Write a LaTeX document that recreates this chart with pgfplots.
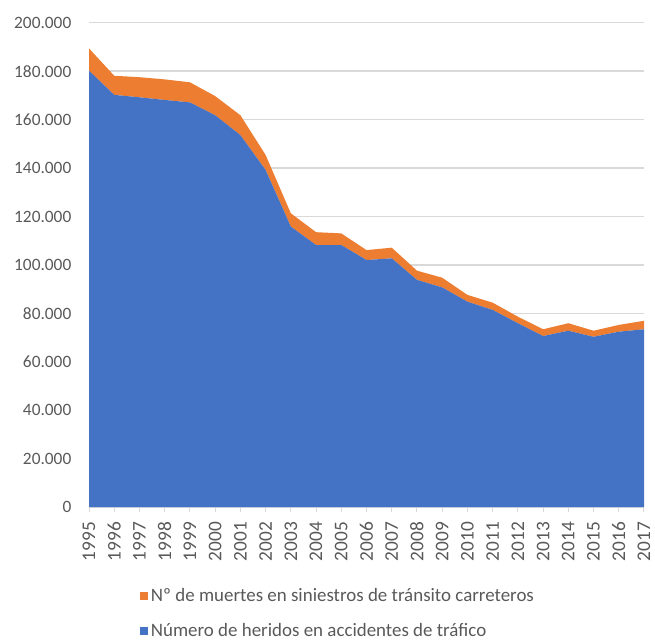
\documentclass[border=0pt]{standalone}
\usepackage{fontspec}
\setmainfont{Carlito}
\usepackage{pgfplots}
\usepackage{pgfplotstable}
\pgfplotsset{compat=1.18}

\definecolor{injblue}{HTML}{4472C4}
\definecolor{deathorange}{HTML}{ED7D31}
\definecolor{txtgray}{HTML}{595959}
\definecolor{gridgray}{HTML}{D9D9D9}

% Injured and deaths per year (deaths stacked on top of injured)
\pgfplotstableread{
year injured deaths
1995 180200 9200
1996 170200 7900
1997 169200 8300
1998 168100 8500
1999 167100 8300
2000 161800 7900
2001 153600 8200
2002 139200 6200
2003 115800 5500
2004 108200 5300
2005 108200 4800
2006 102000 4100
2007 102700 4400
2008 93800 3800
2009 90700 4000
2010 84800 2800
2011 81400 3000
2012 75900 2700
2013 70600 2800
2014 72800 3100
2015 70300 2500
2016 72400 2800
2017 73400 3500
}\datatable

\begin{document}
\begin{tikzpicture}
\begin{axis}[
  scale only axis,
  width=416.25pt, height=363.2pt,
  xmin=1995, xmax=2017, ymin=0, ymax=200000,
  stack plots=y,
  axis lines*=left,
  xtick={1995,...,2017},
  ytick={0,20000,40000,60000,80000,100000,120000,140000,160000,180000,200000},
  scaled y ticks=false,
  ymajorgrids,
  major grid style={gridgray, line width=1pt},
  tick align=outside,
  major tick length=3.75pt,
  xtick style={gridgray, line width=0.75pt},
  ytick style={draw=none},
  y axis line style={draw=none},
  x axis line style={gridgray, line width=0.75pt},
  tick label style={text=txtgray},
  yticklabel={\pgfmathprintnumber[fixed, precision=0, 1000 sep={.}, assume math mode=true]{\tick}},
  xticklabel={\pgfmathprintnumber[fixed, precision=0, 1000 sep={}, assume math mode=true]{\tick}},
  y tick label style={font=\fontsize{13}{15}\selectfont, xshift=-6pt},
  x tick label style={font=\fontsize{14.5}{16}\selectfont, yshift=-4pt, rotate=90, anchor=east},
  reverse legend,
  legend cell align=left,
  legend image code/.code={\fill[#1] (0pt,-3pt) rectangle (6pt,3pt);},
  legend style={draw=none, fill=none, inner sep=0pt,
    at={(axis description cs:0,0)}, anchor=north west,
    xshift=38.25pt, yshift=-59pt,
    font=\fontsize{14.2}{16}\selectfont, text=txtgray,
    row sep=11pt},
]
\addplot[fill=injblue, draw=none] table[x=year, y=injured] {\datatable} \closedcycle;
\addlegendentry{Número de heridos en accidentes de tráfico}
\addplot[fill=deathorange, draw=none] table[x=year, y=deaths] {\datatable} \closedcycle;
\addlegendentry{Nº de muertes en siniestros de tránsito carreteros}
\end{axis}
\pgfresetboundingbox
\useasboundingbox (-66.75pt,-99.75pt) rectangle (424.5pt,380.25pt);
\end{tikzpicture}
\end{document}
